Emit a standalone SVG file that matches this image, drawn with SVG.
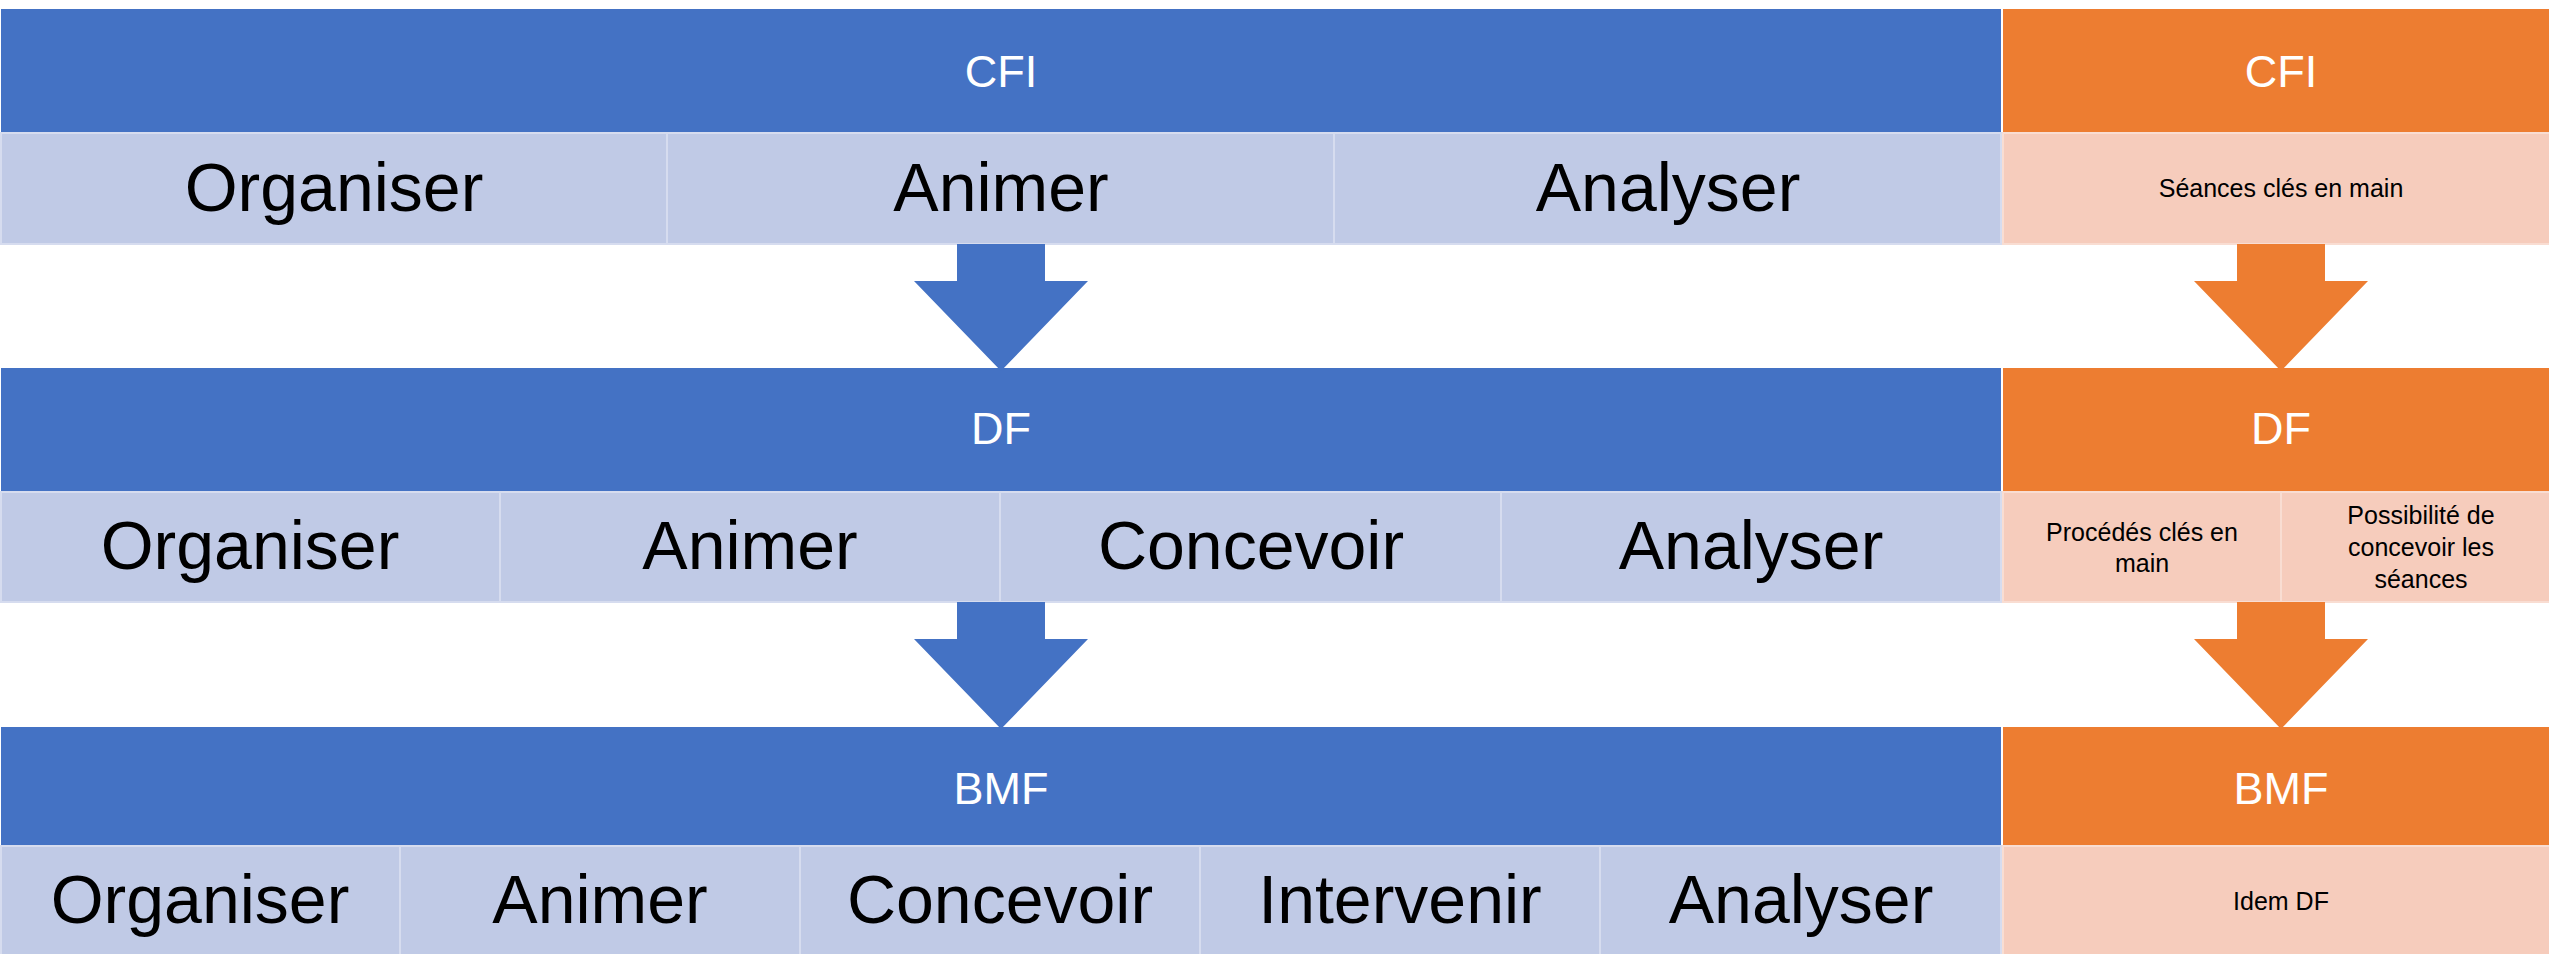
<svg xmlns="http://www.w3.org/2000/svg" width="2549" height="954" viewBox="0 0 2549 954">
<style>
.hb{fill:#4472C4}
.ho{fill:#ED7D31}
.sb{fill:#C0CAE6;stroke:#D6DCEF;stroke-width:2}
.so{fill:#F6CCBC;stroke:#F9DDD2;stroke-width:2}
.ht{font-family:"Liberation Sans",Arial,sans-serif;font-size:45px;fill:#FFFFFF;text-anchor:middle}
.bt{font-family:"Liberation Sans",Arial,sans-serif;font-size:68px;fill:#000000;text-anchor:middle}
.st{font-family:"Liberation Sans",Arial,sans-serif;font-size:25px;fill:#000000;text-anchor:middle}
.ab{fill:#4472C4}
.ao{fill:#ED7D31}
</style>
<rect width="2549" height="954" fill="#FFFFFF"/>

<g id="cfi-blue">
<rect class="hb" x="1" y="9" width="2000" height="124"/>
<text class="ht" x="1001" y="87">CFI</text>
<rect class="sb" x="1" y="133" width="666" height="111"/>
<rect class="sb" x="667" y="133" width="667" height="111"/>
<rect class="sb" x="1334" y="133" width="667" height="111"/>
<text class="bt" x="334" y="211">Organiser</text>
<text class="bt" x="1001" y="211">Animer</text>
<text class="bt" x="1668" y="211">Analyser</text>
</g>

<g id="cfi-orange">
<rect class="ho" x="2003" y="9" width="560" height="124"/>
<text class="ht" x="2281" y="87">CFI</text>
<rect class="so" x="2003" y="133" width="560" height="111"/>
<text class="st" x="2281" y="197">Séances clés en main</text>
</g>

<g id="df-blue">
<rect class="hb" x="1" y="368" width="2000" height="124"/>
<text class="ht" x="1001" y="444">DF</text>
<rect class="sb" x="1" y="492" width="499" height="110"/>
<rect class="sb" x="500" y="492" width="500" height="110"/>
<rect class="sb" x="1000" y="492" width="501" height="110"/>
<rect class="sb" x="1501" y="492" width="500" height="110"/>
<text class="bt" x="250" y="569">Organiser</text>
<text class="bt" x="750" y="569">Animer</text>
<text class="bt" x="1251" y="569">Concevoir</text>
<text class="bt" x="1751" y="569">Analyser</text>
</g>

<g id="df-orange">
<rect class="ho" x="2003" y="368" width="560" height="124"/>
<text class="ht" x="2281" y="444">DF</text>
<rect class="so" x="2003" y="492" width="278" height="110"/>
<rect class="so" x="2281" y="492" width="282" height="110"/>
<text class="st" x="2142" y="541">Procédés clés en</text>
<text class="st" x="2142" y="572">main</text>
<text class="st" x="2421" y="524">Possibilité de</text>
<text class="st" x="2421" y="556">concevoir les</text>
<text class="st" x="2421" y="588">séances</text>
</g>

<g id="bmf-blue">
<rect class="hb" x="1" y="727" width="2000" height="119"/>
<text class="ht" x="1001" y="804">BMF</text>
<rect class="sb" x="1" y="846" width="399" height="112"/>
<rect class="sb" x="400" y="846" width="400" height="112"/>
<rect class="sb" x="800" y="846" width="400" height="112"/>
<rect class="sb" x="1200" y="846" width="400" height="112"/>
<rect class="sb" x="1600" y="846" width="401" height="112"/>
<text class="bt" x="200" y="923">Organiser</text>
<text class="bt" x="600" y="923">Animer</text>
<text class="bt" x="1000" y="923">Concevoir</text>
<text class="bt" x="1400" y="923">Intervenir</text>
<text class="bt" x="1801" y="923">Analyser</text>
</g>

<g id="bmf-orange">
<rect class="ho" x="2003" y="727" width="560" height="119"/>
<text class="ht" x="2281" y="804">BMF</text>
<rect class="so" x="2003" y="846" width="560" height="112"/>
<text class="st" x="2281" y="910">Idem DF</text>
</g>

<g id="connectors">
<polygon class="ab" points="957,244 1045,244 1045,281 1088,281 1001,371 914,281 957,281"/>
<polygon class="ao" points="2237,244 2325,244 2325,281 2368,281 2281,371 2194,281 2237,281"/>
<polygon class="ab" points="957,602 1045,602 1045,639 1088,639 1001,729 914,639 957,639"/>
<polygon class="ao" points="2237,602 2325,602 2325,639 2368,639 2281,729 2194,639 2237,639"/>
</g>
</svg>
